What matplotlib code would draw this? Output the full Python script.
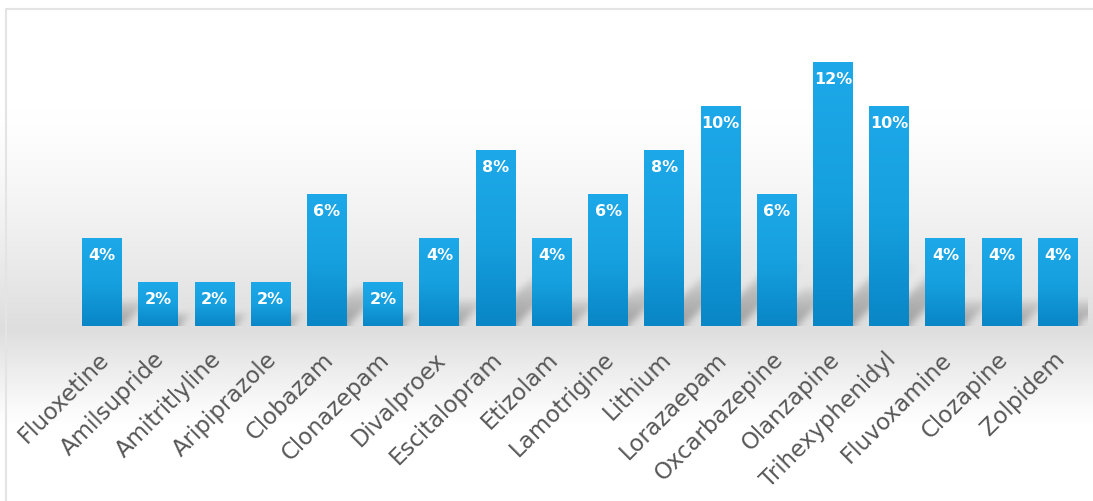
import numpy as np
import matplotlib.pyplot as plt
from matplotlib.colors import LinearSegmentedColormap
from matplotlib.patches import Rectangle

drugs = ['Fluoxetine', 'Amilsupride', 'Amitritlyline', 'Aripiprazole', 'Clobazam',
         'Clonazepam', 'Divalproex', 'Escitalopram', 'Etizolam', 'Lamotrigine',
         'Lithium', 'Lorazaepam', 'Oxcarbazepine', 'Olanzapine', 'Trihexyphenidyl',
         'Fluvoxamine', 'Clozapine', 'Zolpidem']
pct = [4, 2, 2, 2, 6, 2, 4, 8, 4, 6, 8, 10, 6, 12, 10, 4, 4, 4]

W, H = 1093, 502
fig = plt.figure(figsize=(W / 100, H / 100), dpi=100)

# background: grey band fading to white above and below the baseline
bg = fig.add_axes([0, 0, 1, 1])
bg.set_xlim(0, W)
bg.set_ylim(H, 0)
bg.axis('off')
yy = np.arange(H)
shade = np.ones(H)
up = (yy > 110) & (yy <= 330)
shade[up] = 1 - 0.13 * ((yy[up] - 110) / 220) ** 1.3
dn = (yy > 330) & (yy < 425)
shade[dn] = 1 - 0.13 * (1 - (yy[dn] - 330) / 95) ** 1.1
img = np.repeat(shade[:, None], 2, axis=1)
bg.imshow(np.dstack([img, img, img]), extent=[0, W, H, 0], aspect='auto', zorder=0)
bg.plot([6, 6, W], [H, 10, 10], color='#e4e4e4', lw=1.5, zorder=1)

# main axes, one unit of x per bar
ax = fig.add_axes([74 / W, 1 - 327 / H, (1086 - 74) / W, 14 * 22 / H])
ax.set_xlim(-0.5, len(drugs) - 0.5)
ax.set_ylim(0, 14)
ax.axis('off')

bw = 0.71
lean = 22 / 56.2  # x units per y unit -> 45 degrees on screen

# blurred drop shadow, leaning up and to the right of each bar
sx0, sx1, sy1 = -0.5, len(drugs) - 0.48, 3.2
nx, ny = int((sx1 - sx0) * 56.2), int(sy1 * 22)
gx = np.linspace(sx0, sx1, nx)[None, :]
gy = np.linspace(0, sy1, ny)[:, None]
dens = np.zeros((ny, nx))
for i, p in enumerate(pct):
    h = min(2.8, 0.3 * p)
    x0 = i - bw / 2 + 0.15 + gy * lean
    x1 = i + bw / 2 + gy * lean
    m = (gx >= x0) & (gx <= x1) & (gy <= h)
    dens = np.maximum(dens, m * np.clip(1 - gy / h, 0, 1) ** 0.6)

def box(a, k, axis):
    a = np.moveaxis(a, axis, 0)
    c = np.cumsum(np.pad(a, ((k, k),) + ((0, 0),) * (a.ndim - 1), mode='edge'), axis=0)
    out = (c[2 * k:] - np.vstack([np.zeros((1,) + a.shape[1:]), c[:-2 * k - 1]])) / (2 * k + 1)
    return np.moveaxis(out[:a.shape[0]], 0, axis)

for _ in range(2):
    dens = box(dens, 3, 0)
    dens = box(dens, 4, 1)
rgba = np.zeros((ny, nx, 4))
rgba[..., :3] = 0.42
rgba[..., 3] = np.clip(dens, 0, 1) * 0.55
ax.imshow(rgba, extent=[sx0, sx1, 0, sy1], origin='lower', aspect='auto',
          zorder=1, clip_on=False, interpolation='bilinear')

cmap = LinearSegmentedColormap.from_list('bar', ['#0986c6', '#16a0df', '#1da8e9'])
grad = np.linspace(0, 1, 100)[:, None]

for i, (d, p) in enumerate(zip(drugs, pct)):
    r = Rectangle((i - bw / 2, 0), bw, p, facecolor='none', edgecolor='none', zorder=3)
    ax.add_patch(r)
    im = ax.imshow(grad, extent=[i - bw / 2, i + bw / 2, 0, p], cmap=cmap,
                   aspect='auto', origin='lower', zorder=3)
    im.set_clip_path(r)
    ax.text(i, p - 0.75, f'{p}%', ha='center', va='center', color='white',
            fontsize=11.5, fontweight='bold', family='DejaVu Sans', zorder=5)
    ax.text(i - 0.09, -0.95, d, ha='right', va='top', rotation=45,
            rotation_mode='anchor', color='#585858', fontsize=16.5,
            family='DejaVu Sans', zorder=5)

ax.set_xlim(-0.5, len(drugs) - 0.5)
ax.set_ylim(0, 14)

fig.savefig('out.png', dpi=100)
